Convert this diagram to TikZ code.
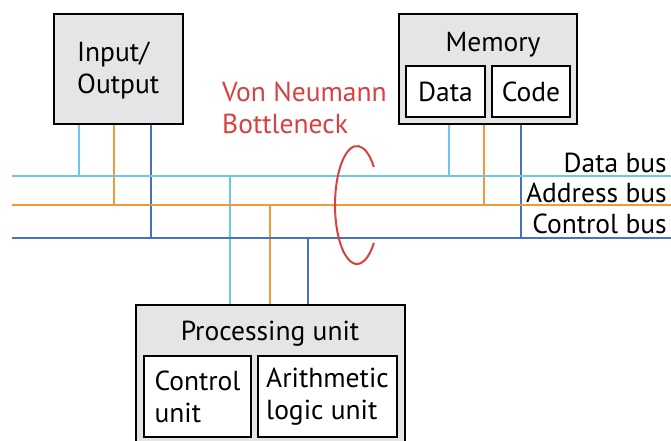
\documentclass[tikz,border=0pt]{standalone}
\usepackage{fontspec}
\setmainfont{PT Sans}
\usetikzlibrary{positioning}

\definecolor{datablue}{RGB}{110,198,240}
\definecolor{addrorange}{RGB}{247,152,56}
\definecolor{ctrlblue}{RGB}{68,114,196}
\definecolor{neckred}{RGB}{217,64,64}
\definecolor{boxgray}{RGB}{229,229,229}

\begin{document}
\begin{tikzpicture}[x=1pt,y=-1pt,
  every node/.style={font=\fontsize{27.5}{32}\selectfont},
  unit/.style={draw,line width=2pt,fill=boxgray,inner sep=0pt},
  part/.style={draw,line width=2pt,fill=white,inner sep=0pt,align=left},
  databus/.style={datablue,line width=2pt},
  addrbus/.style={addrorange,line width=2pt},
  ctrlbus/.style={ctrlblue,line width=2pt},
  buslabel/.style={anchor=base east,inner sep=0pt}]

    \useasboundingbox (0,0) rectangle (671,441);

    % the three buses
    \coordinate (dataL) at (12,176);  \coordinate (dataR) at (671,176);
    \coordinate (addrL) at (12,205);  \coordinate (addrR) at (671,205);
    \coordinate (ctrlL) at (12,238);  \coordinate (ctrlR) at (671,238);

    % the units
    \node[unit,minimum width=129,minimum height=110] (io) at (118.5,69) {};
    % base of a two-line node is the base of its last line
    \node[anchor=base west,inner sep=0pt,align=left] (iotitle) at (77,94) {Input/\\Output};
    \node[unit,minimum width=178,minimum height=110] (mem) at (488,69) {};
    \node[unit,minimum width=269,minimum height=150] (proc) at (270.5,380) {};

    \node[anchor=base,inner sep=0pt] (memtitle) at (493,52) {Memory};
    \node[part,minimum width=79,minimum height=51] (memdata) at (445.5,91.5) {Data};
    \node[part,minimum width=78,minimum height=51] (memcode) at (531,91.5) {Code};

    \node[anchor=base,inner sep=0pt] (proctitle) at (270,340) {Processing unit};
    \node[part,minimum width=107,minimum height=81] (cu) at (197.5,396.5) {Control\\unit};
    \node[part,minimum width=139,minimum height=81] (alu) at (327.5,396.5) {Arithmetic\\logic unit};

    % taps on the buses
    \coordinate (ioD) at (79,176);  \coordinate (ioA) at (114,205);  \coordinate (ioC) at (151,238);
    \coordinate (memD) at (449,176); \coordinate (memA) at (484,205); \coordinate (memC) at (521,238);
    \coordinate (procD) at (230,176); \coordinate (procA) at (270,205); \coordinate (procC) at (308,238);

    \draw[databus] (io.south -| ioD) -- (ioD);
    \draw[addrbus] (io.south -| ioA) -- (ioA);
    \draw[ctrlbus] (io.south -| ioC) -- (ioC);

    \draw[databus] (mem.south -| memD) -- (memD);
    \draw[addrbus] (mem.south -| memA) -- (memA);
    \draw[ctrlbus] (mem.south -| memC) -- (memC);

    \draw[databus] (procD) -- (proc.north -| procD);
    \draw[addrbus] (procA) -- (proc.north -| procA);
    \draw[ctrlbus] (procC) -- (proc.north -| procC);

    \draw[databus] (dataL) -- (dataR);
    \draw[addrbus] (addrL) -- (addrR);
    \draw[ctrlbus] (ctrlL) -- (ctrlR);

    \node[buslabel] (datalbl) at (667,172) {Data bus};
    \node[buslabel] (addrlbl) at (667,202) {Address bus};
    \node[buslabel] (ctrllbl) at (667,233) {Control bus};

    % bottleneck
    \node[anchor=base west,inner sep=0pt,align=left,text=neckred] (necklbl) at (222,133) {Von Neumann\\Bottleneck};
    \coordinate (neck) at (357,205);
    \draw[neckred,line width=2pt] (neck) ++(-40:22 and 59)
        arc[start angle=-40,end angle=-320,x radius=22,y radius=59];
\end{tikzpicture}
\end{document}
